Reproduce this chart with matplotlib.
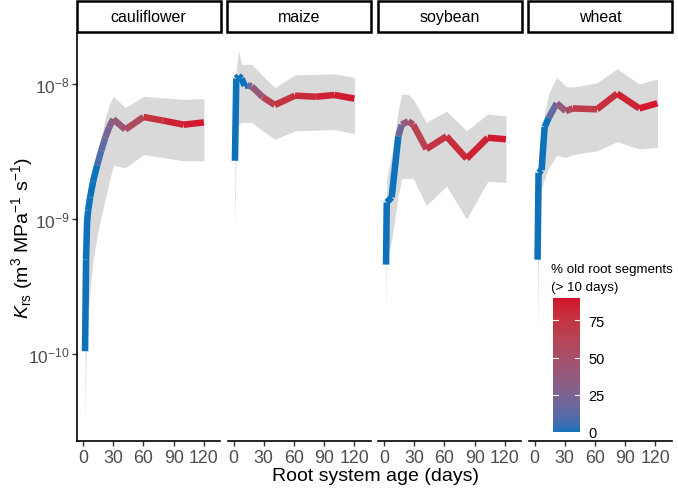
import numpy as np
import matplotlib
matplotlib.use("Agg")
import matplotlib.pyplot as plt
from matplotlib.collections import LineCollection
from matplotlib.colors import ListedColormap, Normalize, to_rgb
from matplotlib.patches import Rectangle
from matplotlib.ticker import FixedLocator, NullLocator

plt.rcParams['font.family'] = ['Liberation Sans', 'DejaVu Sans']
plt.rcParams['mathtext.fontset'] = 'custom'
plt.rcParams['mathtext.rm'] = 'Liberation Sans'
plt.rcParams['mathtext.it'] = 'Liberation Sans:italic'

# ---------------- data ----------------
crops = ["cauliflower", "maize", "soybean", "wheat"]

cauli_days = [2, 3, 4, 5, 7, 10, 14, 18, 22, 26, 30, 42, 60, 80, 100, 120]
cauli_k = [0.105, 0.5, 0.95, 1.15, 1.45, 1.9, 2.5, 3.2, 4.0, 4.8, 5.5, 4.6, 5.7, 5.35, 5.0, 5.2]
cauli_lo = [0.03, 0.1, 0.15, 0.2, 0.3, 0.5, 0.75, 1.05, 1.4, 1.9, 2.5, 2.4, 3.0, 2.85, 2.7, 2.7]
cauli_hi = [0.13, 0.65, 1.2, 1.5, 2.0, 2.5, 2.9, 3.9, 5.6, 7.0, 8.1, 6.7, 8.1, 7.9, 7.7, 7.8]
cauli_pct = [0, 0, 0, 0, 0, 0, 8, 15, 22, 28, 40, 55, 75, 85, 88, 90]

maize_days = [1.4, 2.7, 5, 8, 11, 14, 18, 29, 41, 61, 82, 100, 120]
maize_k = [2.7, 11.0, 11.5, 11.0, 9.7, 9.8, 9.6, 8.0, 7.0, 8.2, 8.05, 8.3, 7.8]
maize_lo = [0.8, 4.0, 5.0, 5.2, 5.2, 5.2, 5.2, 4.5, 3.9, 4.5, 4.55, 4.6, 4.3]
maize_hi = [3.0, 13.0, 17.7, 14.0, 14.0, 14.0, 14.0, 11.5, 9.4, 11.7, 11.8, 11.9, 11.2]
maize_pct = [0, 0, 0, 0, 0, 20, 40, 65, 75, 80, 85, 88, 90]

soy_days = [2, 2.7, 7.6, 14.2, 17.5, 24, 29, 42, 62, 82, 103, 121]
soy_k = [0.46, 1.33, 1.45, 4.1, 5.0, 5.3, 5.0, 3.3, 4.1, 2.8, 4.0, 3.9]
soy_lo = [0.21, 0.5, 0.7, 1.5, 2.0, 2.0, 2.0, 1.26, 1.76, 1.0, 1.9, 1.87]
soy_hi = [0.7, 2.0, 3.0, 6.5, 8.4, 8.4, 7.7, 5.2, 6.3, 4.5, 6.0, 5.8]
soy_pct = [0, 0, 0, 20, 35, 50, 65, 75, 80, 85, 88, 90]

wheat_days = [3, 4, 7, 10, 14, 22, 31, 38, 62, 82, 104, 122]
wheat_k = [0.5, 2.2, 2.3, 4.8, 5.6, 7.2, 6.3, 6.6, 6.5, 8.5, 6.6, 7.2]
wheat_lo = [0.15, 0.6, 1.7, 2.0, 2.4, 2.95, 2.86, 3.0, 3.2, 3.74, 3.3, 3.4]
wheat_hi = [0.6, 3.0, 4.0, 6.0, 8.5, 11.2, 9.6, 9.5, 10.2, 13.0, 10.0, 10.9]
wheat_pct = [0, 0, 0, 0, 15, 35, 55, 70, 78, 84, 88, 90]

x_ticks = [0, 30, 60, 90, 120]
y_ticks = [1e-10, 1e-9, 1e-8]
y_ticklabels = [r"$10^{-10}$", r"$10^{-9}$", r"$10^{-8}$"]
cbar_ticks = [0, 25, 50, 75]
pct_max = 90

series = {
    "cauliflower": (cauli_days, cauli_k, cauli_lo, cauli_hi, cauli_pct),
    "maize": (maize_days, maize_k, maize_lo, maize_hi, maize_pct),
    "soybean": (soy_days, soy_k, soy_lo, soy_hi, soy_pct),
    "wheat": (wheat_days, wheat_k, wheat_lo, wheat_hi, wheat_pct),
}
UNIT = 1e-9

# ---------------- colormap (Lab interpolation like ggplot) ----------------
def _lin(c):
    c = np.asarray(c)
    return np.where(c <= 0.04045, c / 12.92, ((c + 0.055) / 1.055) ** 2.4)

def _gam(c):
    c = np.clip(c, 0, 1)
    return np.where(c <= 0.0031308, 12.92 * c, 1.055 * c ** (1 / 2.4) - 0.055)

M = np.array([[0.4124, 0.3576, 0.1805], [0.2126, 0.7152, 0.0722], [0.0193, 0.1192, 0.9505]])
Mi = np.linalg.inv(M)
WHITE = np.array([0.95047, 1.0, 1.08883])

def _f(t):
    d = 6 / 29
    return np.where(t > d ** 3, np.cbrt(t), t / (3 * d * d) + 4 / 29)

def _fi(t):
    d = 6 / 29
    return np.where(t > d, t ** 3, 3 * d * d * (t - 4 / 29))

def rgb2lab(rgb):
    xyz = M @ _lin(rgb) / WHITE
    fx_, fy_, fz_ = _f(xyz)
    return np.array([116 * fy_ - 16, 500 * (fx_ - fy_), 200 * (fy_ - fz_)])

def lab2rgb(lab):
    L, a, b = lab
    fy_ = (L + 16) / 116
    fx_ = fy_ + a / 500
    fz_ = fy_ - b / 200
    xyz = np.array([_fi(fx_), _fi(fy_), _fi(fz_)]) * WHITE
    return _gam(Mi @ xyz)

low = rgb2lab(np.array(to_rgb("#0C72BA")))
high = rgb2lab(np.array(to_rgb("#D3112B")))
cols = [lab2rgb(low + (high - low) * t) for t in np.linspace(0, 1, 256)]
cmap = ListedColormap(cols)
norm = Normalize(0, pct_max)

# ---------------- figure ----------------
W, H = 678, 489
fig = plt.figure(figsize=(W / 100, H / 100), dpi=100)

def fx(px):
    return px / W

def fy(py):
    return 1 - py / H

panel_left = [77, 227.5, 378, 528.5]
panel_w = 143
top_px, bot_px = 34, 442
ylim = (10 ** -10.644, 10 ** -7.622)
xlim = (-6, 136)

for i, crop in enumerate(crops):
    ax = fig.add_axes([fx(panel_left[i]), fy(bot_px), panel_w / W, (bot_px - top_px) / H])
    d, k, lo, hi, pc = series[crop]
    d = np.array(d, float)
    k = np.array(k) * UNIT
    lo = np.array(lo) * UNIT
    hi = np.array(hi) * UNIT
    pc = np.array(pc, float)
    ax.set_yscale("log")
    ax.fill_between(d, lo, hi, color="#D9D9D9", lw=0, zorder=1)
    pts = np.column_stack([d, k])
    segs = np.stack([pts[:-1], pts[1:]], axis=1)
    lc = LineCollection(segs, colors=cmap(norm(pc[:-1])), linewidths=4.7,
                        capstyle="butt", zorder=2)
    ax.add_collection(lc)
    ax.set_xlim(*xlim)
    ax.set_ylim(*ylim)
    for s in ["top", "right"]:
        ax.spines[s].set_visible(False)
    ax.spines["bottom"].set_linewidth(1.2)
    ax.spines["bottom"].set_color("black")
    ax.xaxis.set_major_locator(FixedLocator(x_ticks))
    ax.set_xticklabels([str(t) for t in x_ticks], fontsize=12.8, color="#4D4D4D")
    ax.tick_params(axis="x", length=3.5, width=1.0, color="#333333", pad=2)
    ax.yaxis.set_minor_locator(NullLocator())
    if i == 0:
        ax.spines["left"].set_linewidth(1.2)
        ax.yaxis.set_major_locator(FixedLocator(y_ticks))
        ax.set_yticklabels(y_ticklabels, fontsize=12.5, color="#4D4D4D")
        ax.tick_params(axis="y", length=3.5, width=1.0, color="#333333", pad=2)
    else:
        ax.spines["left"].set_visible(False)
        ax.yaxis.set_major_locator(NullLocator())
    ax.patch.set_alpha(0)
    # strip
    fig.add_artist(Rectangle((fx(panel_left[i] - 0.5), fy(33)), (panel_w + 1) / W, 31 / H,
                             transform=fig.transFigure, facecolor="white",
                             edgecolor="black", linewidth=1.8))
    fig.text(fx(panel_left[i] + panel_w / 2), fy(17.5), crop, ha="center", va="center",
             fontsize=11.5, color="black")

fig.text(fx(375), fy(477), "Root system age (days)", ha="center", va="center", fontsize=14)
fig.text(fx(22), fy(238), r"$K_{\mathrm{rs}}$ (m$^3$ MPa$^{-1}$ s$^{-1}$)", ha="center",
         va="center", rotation=90, fontsize=14)

# colorbar
cax = fig.add_axes([fx(553), fy(433), 27 / W, 134 / H])
grad = np.linspace(0, pct_max, 256).reshape(-1, 1)
cax.imshow(grad, aspect="auto", cmap=cmap, norm=norm, origin="lower",
           extent=[0, 1, 0, pct_max])
cax.set_xlim(0, 1)
cax.set_ylim(0, pct_max)
cax.set_xticks([])
cax.yaxis.tick_right()
cax.set_yticks(cbar_ticks)
cax.set_yticklabels([str(t) for t in cbar_ticks], fontsize=10.5, color="black")
cax.tick_params(axis="y", length=0, pad=6)
for s in cax.spines.values():
    s.set_visible(False)
for t in cbar_ticks:
    cax.plot([0, 0.2], [t, t], color="white", lw=0.8)
    cax.plot([0.8, 1], [t, t], color="white", lw=0.8)
fig.text(fx(551), fy(270), "% old root segments", ha="left", va="center", fontsize=9.6)
fig.text(fx(551), fy(288), "(> 10 days)", ha="left", va="center", fontsize=9.6)

fig.savefig("out.png", dpi=100)
